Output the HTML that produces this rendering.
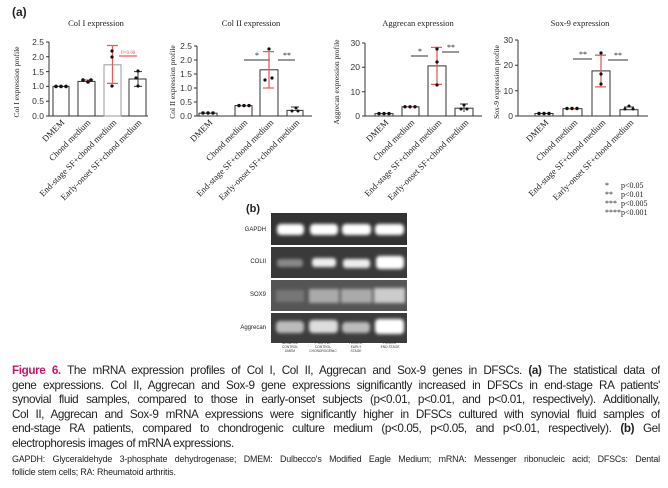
<!DOCTYPE html>
<html><head><meta charset="utf-8"><style>
body{margin:0;background:#fff;width:668px;height:488px;overflow:hidden;position:relative;font-family:"Liberation Serif",serif}
svg{position:absolute;left:0;top:0}
.cap{position:absolute;left:12px;top:364px;width:648px;font-family:"Liberation Sans",sans-serif;font-size:11.7px;line-height:14.5px;color:#222;letter-spacing:-0.4px}
.cap div,.fn div{white-space:nowrap;text-align:justify;text-align-last:justify;overflow:hidden}
.cap div.l,.fn div.l{text-align-last:left}
.fn{position:absolute;left:12px;top:453px;width:648px;font-family:"Liberation Sans",sans-serif;font-size:8.9px;line-height:12.5px;color:#222;letter-spacing:-0.15px}
</style></head><body>
<svg width="668" height="360" viewBox="0 0 668 360" font-family="Liberation Serif, serif" fill="#222">
<text x="12" y="16" font-family="Liberation Sans, sans-serif" font-weight="bold" font-size="12">(a)</text>
<g font-size="8.5" text-anchor="middle">
<text x="96" y="26">Col I expression</text>
<text x="251" y="26">Col II expression</text>
<text x="418" y="26">Aggrecan expression</text>
<text x="580" y="26">Sox-9 expression</text>
</g>
<g font-size="7.5" text-anchor="middle">
<text transform="translate(19,82) rotate(-90)">Col I expression profile</text>
<text transform="translate(175,82) rotate(-90)">Col II expression profile</text>
<text transform="translate(339,82) rotate(-90)">Aggrecan expression profile</text>
<text transform="translate(499,82) rotate(-90)">Sox-9 expression profile</text>
</g>
<g stroke="#333" stroke-width="1" fill="none">
<path d="M49,42V116H148"/>
<path d="M46,42H49M46,56.8H49M46,71.6H49M46,86.4H49M46,101.2H49M46,116H49"/>
<path d="M197,46V116H312"/>
<path d="M194,46H197M194,60H197M194,74H197M194,88H197M194,102H197M194,116H197"/>
<path d="M365,43V116H482"/>
<path d="M362,43H365M362,67.3H365M362,91.7H365M362,116H365"/>
<path d="M518,40V116H648"/>
<path d="M515,40H518M515,65.3H518M515,90.7H518M515,116H518"/>
<rect x="53" y="86.4" width="16" height="29.6"/>
<rect x="78" y="81.4" width="17" height="34.6"/>
<rect x="104" y="64.8" width="17" height="51.2" stroke="#999"/>
<rect x="129" y="79" width="17" height="37"/>
<rect x="199" y="113.2" width="18" height="2.8"/>
<rect x="235" y="105.6" width="17" height="10.4"/>
<rect x="260" y="69.8" width="18" height="46.2"/>
<rect x="287" y="110.4" width="16" height="5.6"/>
<rect x="375" y="113.6" width="18" height="2.4"/>
<rect x="402" y="106.8" width="17" height="9.2"/>
<rect x="428" y="65.9" width="18" height="50.1"/>
<rect x="455" y="108.2" width="18" height="7.8"/>
<rect x="535" y="113.5" width="18" height="2.5"/>
<rect x="563" y="108.7" width="19" height="7.3"/>
<rect x="592" y="70.9" width="18" height="45.1"/>
<rect x="620" y="109.7" width="18" height="6.3"/>
<path d="M244,60H270M278,60H295M411,56H428M442,52H459M573,59H592M608,60H628"/>
<path d="M134,71.6H142M138,71.6V86.4M134,86.4H142"/>
<path d="M291,107H299"/>
<path d="M460,104H468M464,104V112"/>
<path d="M624,107H634"/>
</g>
<g stroke="#e06060" stroke-width="1.3" fill="none">
<path d="M107,45.5H118M112.5,45.5V83.4M107,83.4H118"/>
<path d="M263,51.6H274M269,51.6V88M263,88H274"/>
<path d="M431,47.4H442M437,47.4V84.4M431,84.4H442"/>
<path d="M595,55.2H606M601,55.2V86.9M595,86.9H606"/>
<path d="M119,56H137"/>
<path d="M84,80H90M240,105.6H248M407,106.8H415M568,108.7H577"/>
</g>
<text x="121" y="54" font-size="5" fill="#e06060">P=0.68</text>
<g font-size="8" text-anchor="middle">
<text x="257" y="58">*</text><text x="287" y="58">**</text>
<text x="420" y="54">*</text><text x="451" y="50">**</text>
<text x="583" y="57">**</text><text x="618" y="58">**</text>
</g>
<g fill="#111">
<circle cx="56" cy="86.4" r="1.8"/><circle cx="61" cy="86.4" r="1.8"/><circle cx="66" cy="86.4" r="1.8"/>
<circle cx="83" cy="80" r="1.8"/><circle cx="88" cy="82" r="1.8"/><circle cx="91" cy="80" r="1.8"/>
<circle cx="112" cy="51" r="1.6"/><circle cx="112" cy="57" r="1.6"/><circle cx="112" cy="86" r="1.6"/>
<circle cx="138" cy="71" r="1.6"/><circle cx="136" cy="78" r="1.6"/><circle cx="138" cy="86" r="1.6"/>
<circle cx="203" cy="113" r="1.7"/><circle cx="208" cy="113" r="1.7"/><circle cx="213" cy="113" r="1.7"/>
<circle cx="239" cy="105.6" r="1.7"/><circle cx="244" cy="105.6" r="1.7"/><circle cx="249" cy="105.6" r="1.7"/>
<circle cx="269" cy="49" r="1.6"/><circle cx="265" cy="80" r="1.6"/><circle cx="272" cy="78" r="1.6"/>
<circle cx="292" cy="111" r="1.5"/><circle cx="296" cy="108" r="1.5"/><circle cx="298" cy="111" r="1.5"/>
<circle cx="379" cy="113.6" r="1.7"/><circle cx="384" cy="113.6" r="1.7"/><circle cx="389" cy="113.6" r="1.7"/>
<circle cx="405" cy="106.8" r="1.7"/><circle cx="410" cy="106.8" r="1.7"/><circle cx="415" cy="106.8" r="1.7"/>
<circle cx="437" cy="49" r="1.6"/><circle cx="437" cy="62" r="1.6"/><circle cx="437" cy="85" r="1.6"/>
<circle cx="461" cy="109" r="1.5"/><circle cx="464" cy="105" r="1.5"/><circle cx="467" cy="109" r="1.5"/>
<circle cx="539" cy="113.5" r="1.7"/><circle cx="544" cy="113.5" r="1.7"/><circle cx="549" cy="113.5" r="1.7"/>
<circle cx="567" cy="108.5" r="1.7"/><circle cx="572" cy="108.5" r="1.7"/><circle cx="577" cy="108.5" r="1.7"/>
<circle cx="601" cy="53" r="1.6"/><circle cx="601" cy="74" r="1.6"/><circle cx="601" cy="84" r="1.6"/>
<circle cx="625" cy="109" r="1.5"/><circle cx="629" cy="106" r="1.5"/><circle cx="633" cy="109" r="1.5"/>
</g>
<g font-size="8.5" text-anchor="end" font-family="Liberation Sans, sans-serif" fill="#333">
<text x="44" y="45">2.5</text><text x="44" y="60">2.0</text><text x="44" y="75">1.5</text><text x="44" y="89">1.0</text><text x="44" y="104">0.5</text><text x="44" y="119">0.0</text>
<text x="192" y="49">2.5</text><text x="192" y="63">2.0</text><text x="192" y="77">1.5</text><text x="192" y="91">1.0</text><text x="192" y="105">0.5</text><text x="192" y="119">0.0</text>
<text x="360" y="46">30</text><text x="360" y="70">20</text><text x="360" y="95">10</text><text x="360" y="119">0</text>
<text x="513" y="43">30</text><text x="513" y="68">20</text><text x="513" y="94">10</text><text x="513" y="119">0</text>
</g>
<g font-size="8.8" text-anchor="end">
<text transform="translate(65,123) rotate(-45)">DMEM</text>
<text transform="translate(91,123) rotate(-45)">Chond medium</text>
<text transform="translate(117,123) rotate(-45)">End-stage SF+chond medium</text>
<text transform="translate(142,123) rotate(-45)">Early-onset SF+chond medium</text>
<text transform="translate(213,123) rotate(-45)">DMEM</text>
<text transform="translate(248,123) rotate(-45)">Chond medium</text>
<text transform="translate(274,123) rotate(-45)">End-stage SF+chond medium</text>
<text transform="translate(300,123) rotate(-45)">Early-onset SF+chond medium</text>
<text transform="translate(389,123) rotate(-45)">DMEM</text>
<text transform="translate(415,123) rotate(-45)">Chond medium</text>
<text transform="translate(442,123) rotate(-45)">End-stage SF+chond medium</text>
<text transform="translate(469,123) rotate(-45)">Early-onset SF+chond medium</text>
<text transform="translate(549,123) rotate(-45)">DMEM</text>
<text transform="translate(578,123) rotate(-45)">Chond medium</text>
<text transform="translate(606,123) rotate(-45)">End-stage SF+chond medium</text>
<text transform="translate(634,123) rotate(-45)">Early-onset SF+chond medium</text>
</g>
<g font-size="8">
<text x="605" y="188">*</text><text x="621" y="188">p&lt;0.05</text>
<text x="605" y="197">**</text><text x="621" y="197">p&lt;0.01</text>
<text x="605" y="206">***</text><text x="621" y="206">p&lt;0.005</text>
<text x="605" y="215">****</text><text x="621" y="215">p&lt;0.001</text>
</g>
<text x="246" y="212" font-family="Liberation Sans, sans-serif" font-weight="bold" font-size="11">(b)</text>
<defs>
<filter id="bl"><feGaussianBlur stdDeviation="1.6"/></filter>
</defs>
<rect x="271" y="213" width="136" height="32" fill="#333"/>
<rect x="271" y="247" width="136" height="31" fill="#3a3a3a"/>
<rect x="271" y="280" width="136" height="31" fill="#555"/>
<rect x="271" y="313" width="136" height="30" fill="#3c3c3c"/>
<g filter="url(#bl)">
<rect x="277" y="224" width="27" height="11" rx="4" fill="#fff"/>
<rect x="310" y="224" width="28" height="11" rx="4" fill="#fff"/>
<rect x="342" y="224" width="29" height="11" rx="4" fill="#fff"/>
<rect x="375" y="224" width="29" height="11" rx="4" fill="#fff"/>
<rect x="277" y="259" width="26" height="8" rx="3" fill="#888"/>
<rect x="312" y="258" width="24" height="9" rx="3" fill="#eee"/>
<rect x="343" y="259" width="27" height="9" rx="3" fill="#eee"/>
<rect x="376" y="256" width="28" height="13" rx="4" fill="#fff"/>
<rect x="276" y="290" width="28" height="12" fill="#777"/>
<rect x="309" y="289" width="30" height="14" fill="#aaa"/>
<rect x="341" y="289" width="31" height="14" fill="#aaa"/>
<rect x="374" y="288" width="31" height="15" fill="#ccc"/>
<rect x="276" y="321" width="28" height="12" rx="4" fill="#bbb"/>
<rect x="309" y="320" width="29" height="13" rx="4" fill="#ddd"/>
<rect x="342" y="322" width="28" height="11" rx="4" fill="#bbb"/>
<rect x="375" y="319" width="29" height="15" rx="4" fill="#fff"/>
</g>
<g font-family="Liberation Sans, sans-serif" font-size="6" text-anchor="end" fill="#222">
<text x="266" y="231">GAPDH</text>
<text x="266" y="263">COLII</text>
<text x="266" y="296">SOX9</text>
<text x="266" y="329">Aggrecan</text>
</g>
<g font-family="Liberation Sans, sans-serif" font-size="3.3" text-anchor="middle" fill="#333">
<text x="290" y="344">NEGATIVE</text><text x="290" y="348">CONTROL</text><text x="290" y="352">DMEM</text>
<text x="323" y="344">POSITIVE</text><text x="323" y="348">CONTROL</text><text x="323" y="352">CHONDROGENIC</text>
<text x="356" y="344">PATIENT</text><text x="356" y="348">EARLY</text><text x="356" y="352">STAGE</text>
<text x="390" y="344">PATIENT</text><text x="390" y="348">END STAGE</text>
</g>
</svg>
<div class="cap">
<div><b style="color:#c2186b">Figure 6.</b> The mRNA expression profiles of Col I, Col II, Aggrecan and Sox-9 genes in DFSCs. <b>(a)</b> The statistical data of</div>
<div>gene expressions. Col II, Aggrecan and Sox-9 gene expressions significantly increased in DFSCs in end-stage RA patients'</div>
<div>synovial fluid samples, compared to those in early-onset subjects (p&lt;0.01, p&lt;0.01, and p&lt;0.01, respectively). Additionally,</div>
<div>Col II, Aggrecan and Sox-9 mRNA expressions were significantly higher in DFSCs cultured with synovial fluid samples of</div>
<div>end-stage RA patients, compared to chondrogenic culture medium (p&lt;0.05, p&lt;0.05, and p&lt;0.01, respectively). <b>(b)</b> Gel</div>
<div class="l">electrophoresis images of mRNA expressions.</div>
</div>
<div class="fn">
<div>GAPDH: Glyceraldehyde 3-phosphate dehydrogenase; DMEM: Dulbecco's Modified Eagle Medium; mRNA: Messenger ribonucleic acid; DFSCs: Dental</div>
<div class="l">follicle stem cells; RA: Rheumatoid arthritis.</div>
</div>
</body></html>
